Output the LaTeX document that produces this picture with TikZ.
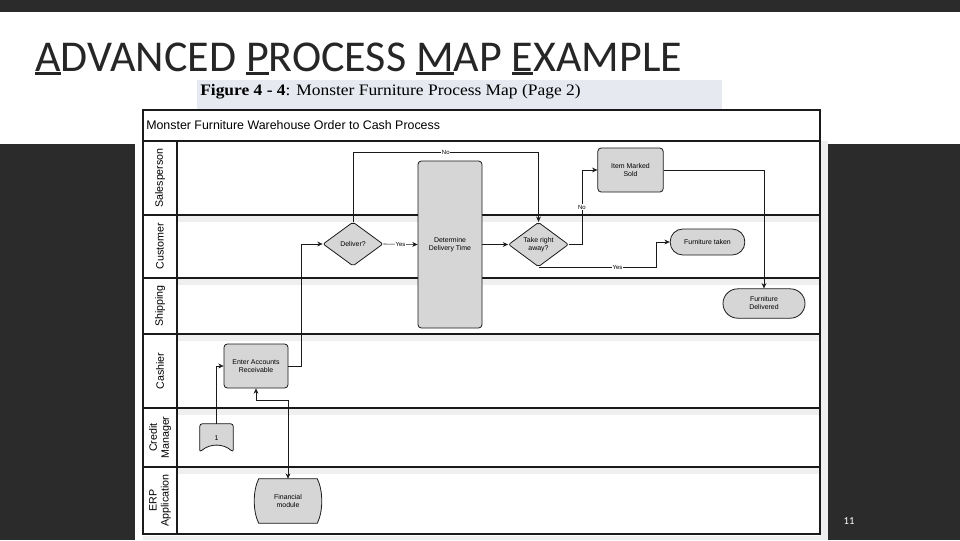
\documentclass[tikz,border=0pt]{standalone}
\usepackage{fontspec}
\setmainfont{Liberation Sans}
\newfontfamily\slidefont{Carlito}
\newfontfamily\capfont{Liberation Serif}
\usetikzlibrary{positioning,arrows.meta,calc,shapes.geometric,backgrounds}
\usepackage{xcolor}
\definecolor{slideDark}{HTML}{2B2B2B}
\definecolor{titleInk}{HTML}{262626}
\definecolor{capBand}{HTML}{E6E9F0}
\definecolor{boxGray}{HTML}{D6D6D6}
\definecolor{shadeGray}{HTML}{EFEFEF}
\definecolor{lineInk}{HTML}{1A1A1A}
\newcommand\firstul[1]{\setbox0=\hbox{#1}\rlap{\rule[-3pt]{\wd0}{2pt}}#1}

\begin{document}
\begin{tikzpicture}[x=0.75pt, y=-0.75pt, font=\fontsize{5.2}{6}\selectfont, >={Stealth[length=4pt, width=3.6pt]},
  task/.style={draw=lineInk, line width=0.6pt, rounded corners=2.5pt, fill=boxGray, align=center, inner sep=1pt},
  decision/.style={diamond, draw=lineInk, line width=0.6pt, rounded corners=1.5pt, fill=boxGray, align=center, inner sep=0pt, minimum width=45pt, minimum height=33pt},
  terminal/.style={draw=lineInk, line width=0.6pt, rounded corners=9.5pt, fill=boxGray, align=center, inner sep=1pt},
  flow/.style={line width=0.45pt, draw=lineInk},
  yesno/.style={fill=white, inner sep=0.6pt, font=\fontsize{4.5}{5}\selectfont},
  lanelbl/.style={rotate=90, align=center, font=\fontsize{8}{9}\selectfont},
  sepline/.style={line width=1pt, draw=lineInk}]
\useasboundingbox (0,0) rectangle (960,540);

% slide
\begin{scope}[on background layer]
\fill[white] (0,0) rectangle (960,540);
\fill[slideDark] (0,0) rectangle (960,12);
\fill[slideDark] (0,144) rectangle (960,540);
\fill[white] (135,144) rectangle (828,540);
\fill[shadeGray] (820,141) rectangle (828,540);
\fill[shadeGray] (143,536) rectangle (828,540);
\end{scope}

\node[anchor=base west, font=\slidefont\fontsize{33}{36}\selectfont, text=titleInk, inner sep=0pt] (slidetitle) at (35,71)
  {\firstul{A}DVANCED \firstul{P}ROCESS \firstul{M}AP \firstul{E}XAMPLE};
\node[fill=capBand, minimum width=393.75pt, minimum height=21.75pt, inner sep=0pt, anchor=north west] (capband) at (197,80) {};
\node[anchor=west, font=\capfont\fontsize{12}{13}\selectfont, inner sep=0pt] (caption) at (200,92)
  {\scalebox{1.09}[1]{\textbf{Figure 4 - 4}: Monster Furniture Process Map (Page 2)}};
\node[text=white, font=\slidefont\fontsize{8}{9}\selectfont] (pagenum) at (849,521) {11};

% swimlanes
\foreach \yy in {215,278,334,408,467} {
  \fill[shadeGray] (177,\yy) rectangle (820,\yy+7);
  \draw[sepline] (143,\yy) -- (820,\yy);
}
\draw[sepline] (143,141) -- (820,141);
\draw[sepline] (177,141) -- (177,534);
\draw[line width=1.6pt, draw=lineInk] (143,110) rectangle (820,534);
\node[anchor=west, font=\fontsize{9.3}{11}\selectfont, inner sep=0pt] (maptitle) at (146,125.5)
  {Monster Furniture Warehouse Order to Cash Process};
\foreach \lname/\ly/\ltext in {sales/178/Salesperson, cust/246.5/Customer, ship/306/Shipping,
    cash/371/Cashier, credit/437.5/{Credit\\Manager}, erp/500.5/{ERP\\Application}}
  \node[lanelbl] (lane-\lname) at (160,\ly) {\ltext};

% steps
\node[decision] (deliver) at (353,244) {Deliver?};
\node[task, minimum width=48pt, minimum height=125.25pt] (determine) at (450,244.5) {Determine\\Delivery Time};
\node[decision] (takeaway) at (538.5,244.5) {Take right\\away?};
\node[task, minimum width=49pt, minimum height=33pt] (sold) at (630.5,170) {Item Marked\\Sold};
\node[terminal, minimum width=56pt, minimum height=19.5pt] (taken) at (707.5,242) {Furniture taken};
\node[terminal, rounded corners=11pt, minimum width=61.5pt, minimum height=22pt] (delivered) at (764,303.5) {Furniture\\Delivered};
\node[task, minimum width=48pt, minimum height=33pt] (ear) at (256,366) {Enter Accounts\\Receivable};
\node[minimum width=24.75pt, minimum height=21pt, inner sep=0pt] (pageref) at (216.5,438) {1};
\node[minimum width=43.5pt, minimum height=33pt, inner sep=0pt, align=center] (finmod) at (288,501) {Financial\\module};
\begin{scope}[on background layer]
\filldraw[fill=boxGray, draw=lineInk, line width=0.6pt, rounded corners=2pt]
  (pageref.south west) -- (pageref.north west) -- (pageref.north east) -- (pageref.south east)
  .. controls +(-10,-9) and +(10,-9) .. (pageref.south west) -- cycle;
\filldraw[fill=boxGray, draw=lineInk, line width=0.6pt]
  (finmod.north west) -- (finmod.north east) .. controls +(6,12) and +(6,-12) .. (finmod.south east)
  -- (finmod.south west) .. controls +(-6,-12) and +(-6,12) .. (finmod.north west) -- cycle;
\end{scope}

% flows
\draw[flow, ->] (pageref.north) |- (ear.west);
\draw[flow, ->] (ear.east) -- ++(13,0) |- (deliver.west);
\draw[flow, ->] (deliver.east) -- node[yesno]{Yes} (determine.west);
\draw[flow, ->] (deliver.north) -- ++(0,-69) -| node[yesno, pos=0.25]{No} (takeaway.north);
\draw[flow, ->] (determine.east) -- (takeaway.west);
\draw[flow, ->] (takeaway.east) -- ++(13,0) |- node[yesno, pos=0.25]{No} (sold.west);
\draw[flow, ->] (takeaway.south) -- node[yesno, pos=0.67]{Yes} ++(118,0) |- (taken.west);
\draw[flow, ->] (sold.east) -| (delivered.north);
\draw[flow, <->] (ear.south) -- ++(0,12) -| (finmod.north);
\end{tikzpicture}
\end{document}
